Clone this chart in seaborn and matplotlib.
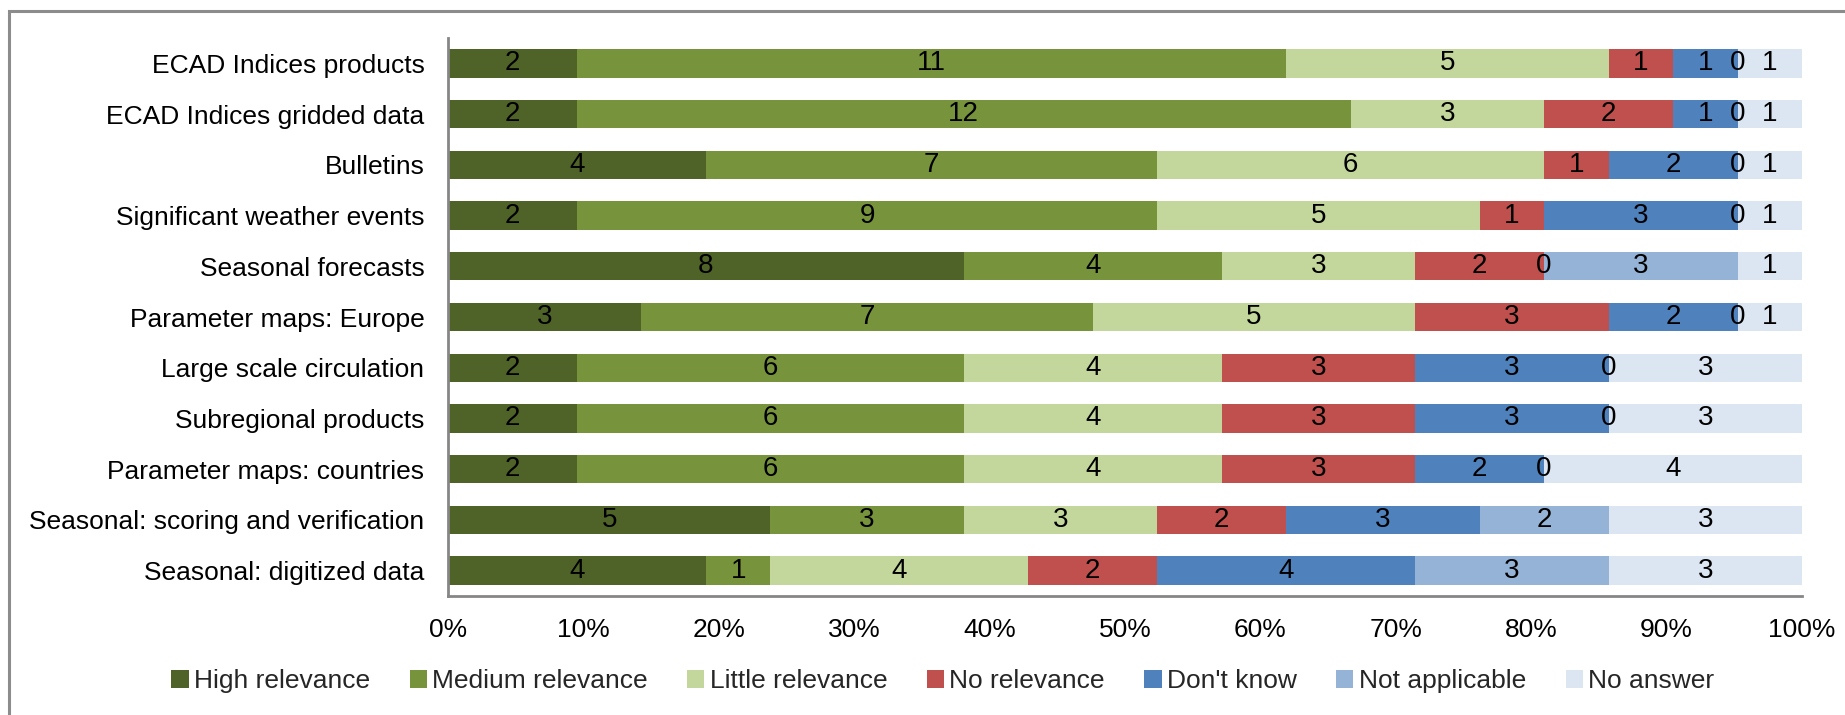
import numpy as np
import pandas as pd
import matplotlib
matplotlib.use("Agg")
import matplotlib.pyplot as plt
from matplotlib.patches import Patch, Rectangle
import seaborn as sns

categories = [
    "ECAD Indices products",
    "ECAD Indices gridded data",
    "Bulletins",
    "Significant weather events",
    "Seasonal forecasts",
    "Parameter maps: Europe",
    "Large scale circulation",
    "Subregional products",
    "Parameter maps: countries",
    "Seasonal: scoring and verification",
    "Seasonal: digitized data",
]

series_names = [
    "High relevance",
    "Medium relevance",
    "Little relevance",
    "No relevance",
    "Don't know",
    "Not applicable",
    "No answer",
]

high_relevance = [2, 2, 4, 2, 8, 3, 2, 2, 2, 5, 4]
medium_relevance = [11, 12, 7, 9, 4, 7, 6, 6, 6, 3, 1]
little_relevance = [5, 3, 6, 5, 3, 5, 4, 4, 4, 3, 4]
no_relevance = [1, 2, 1, 1, 2, 3, 3, 3, 3, 2, 2]
dont_know = [1, 1, 2, 3, 0, 2, 3, 3, 2, 3, 4]
not_applicable = [0, 0, 0, 0, 3, 0, 0, 0, 0, 2, 3]
no_answer = [1, 1, 1, 1, 1, 1, 3, 3, 4, 3, 3]

colors = ["#4F6228", "#77933C", "#C3D69B", "#C0504D", "#4F81BD", "#95B3D7", "#DCE6F2"]
tick_labels = ["0%", "10%", "20%", "30%", "40%", "50%", "60%", "70%", "80%", "90%", "100%"]

counts = pd.DataFrame(
    np.array([high_relevance, medium_relevance, little_relevance, no_relevance,
              dont_know, not_applicable, no_answer]).T,
    index=categories, columns=series_names,
)
share = counts.div(counts.sum(axis=1), axis=0) * 100
cum = share.cumsum(axis=1)
start = cum - share

sns.set_theme(style="white")
plt.rcParams["font.family"] = ["Liberation Sans", "DejaVu Sans"]

fig = plt.figure(figsize=(18.45, 7.15), dpi=100)
ax = fig.add_axes([448 / 1845, 1 - 596 / 715, (1802 - 448) / 1845, (596 - 38) / 715])

# outer chart border
fig.patches.append(Rectangle((9 / 1845, -0.1), 1.2, 1 - 11 / 715 + 0.1,
                             transform=fig.transFigure, fill=False,
                             edgecolor="#8C8C8C", linewidth=2.2, zorder=0))

# stacked bars: draw cumulative totals from the last series backwards
for name, color in reversed(list(zip(series_names, colors))):
    df = pd.DataFrame({"category": categories, "value": cum[name].values})
    sns.barplot(data=df, x="value", y="category", orient="h", color=color,
                width=0.56, saturation=1, ax=ax, linewidth=0)

# segment value labels
for i, cat in enumerate(categories):
    for name in series_names:
        xc = start.loc[cat, name] + share.loc[cat, name] / 2
        ax.text(xc, i, f"{counts.loc[cat, name]}", ha="center", va="center",
                fontsize=20, color="black")

ax.set_xlim(0, 100)
ax.set_ylim(len(categories) - 0.5, -0.5)
ax.set_xticks(np.linspace(0, 100, 11))
ax.set_xticklabels(tick_labels)
ax.set_xlabel("")
ax.set_ylabel("")
ax.tick_params(axis="x", length=0, pad=16, labelsize=19, labelcolor="black")
ax.tick_params(axis="y", length=0, pad=17, labelsize=19, labelcolor="black")
for side in ["top", "right"]:
    ax.spines[side].set_visible(False)
for side in ["left", "bottom"]:
    ax.spines[side].set_color("#868686")
    ax.spines[side].set_linewidth(2)

handles = [Patch(facecolor=c, edgecolor="none") for c in colors]
fig.legend(handles, series_names, loc="center", bbox_to_anchor=(0.511, 1 - 681 / 715),
           ncol=7, frameon=False, fontsize=19, handlelength=0.65, handleheight=0.65,
           handletextpad=0.2, columnspacing=1.5)

fig.savefig("out.png", dpi=100)
